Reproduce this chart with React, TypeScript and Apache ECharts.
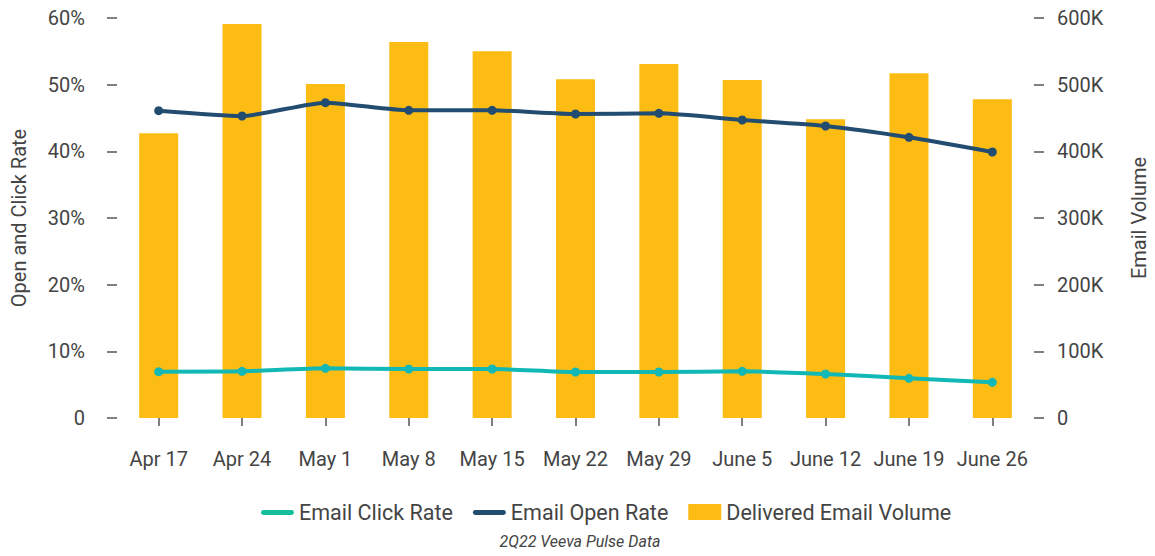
import React, { useEffect, useRef } from "react";
import * as echarts from "echarts";

const categories = ["Apr 17", "Apr 24", "May 1", "May 8", "May 15", "May 22", "May 29", "June 5", "June 12", "June 19", "June 26"];
const clickRate = [6.95, 7.0, 7.45, 7.35, 7.35, 6.9, 6.9, 7.0, 6.6, 5.95, 5.35];
const openRate = [46.1, 45.3, 47.3, 46.15, 46.15, 45.6, 45.7, 44.7, 43.8, 42.1, 39.9];
const volume = [427000, 591000, 501000, 564000, 550000, 508000, 531000, 507000, 448000, 517000, 478000];

const FONT = "Roboto, 'Noto Sans', sans-serif";
const TEXT = "#444444";
const BAR = "#FDBC13";
const OPEN = "#234D70";
const CLICK = "#12B8B5";
const CLICK_LEGEND = "#16BE9E";
const lineIcon = "path://M0,0 M0,16 M2,6 L31,6 A2.5,2.5 0 0 1 31,11 L2,11 A2.5,2.5 0 0 1 2,6 Z";

export default function App() {
  const ref = useRef<HTMLDivElement>(null);
  useEffect(() => {
    document.body.style.margin = "0";
    const chart = echarts.init(ref.current!, null, { renderer: "svg" });
    chart.setOption({
      animation: false,
      textStyle: { fontFamily: FONT },
      grid: { left: 117, right: 121, top: 18, bottom: 138, outerBoundsMode: "none", containLabel: false },
      legend: {
        top: 496,
        left: 256,
        itemWidth: 33,
        itemHeight: 16,
        itemGap: 20,
        textStyle: { fontSize: 21.5, color: TEXT, fontFamily: FONT },
        data: [
          { name: "Email Click Rate", icon: lineIcon, itemStyle: { color: CLICK_LEGEND } },
          { name: "Email Open Rate", icon: lineIcon, itemStyle: { color: OPEN } },
          { name: "Delivered Email Volume", icon: "rect", itemStyle: { color: BAR } },
        ],
      },
      graphic: [
        {
          type: "text",
          x: 580,
          y: 541,
          style: {
            text: "2Q22 Veeva Pulse Data",
            fontSize: 16,
            fontStyle: "italic",
            fill: TEXT,
            fontFamily: FONT,
            align: "center",
            verticalAlign: "middle",
          },
        },
      ],
      xAxis: {
        type: "category",
        data: categories,
        offset: 12,
        axisLine: { show: false },
        axisTick: { show: true, length: 8, alignWithLabel: true, lineStyle: { color: "#555", width: 1.5 } },
        axisLabel: { fontSize: 20, color: TEXT, margin: 19, interval: 0 },
      },
      yAxis: [
        {
          type: "value",
          min: 0,
          max: 60,
          interval: 10,
          name: "Open and Click Rate",
          nameLocation: "middle",
          nameGap: 88,
          nameTextStyle: { fontSize: 20, color: TEXT },
          axisLine: { show: false },
          axisTick: { show: true, length: 10, lineStyle: { color: "#555", width: 1.5 } },
          splitLine: { show: false },
          axisLabel: { fontSize: 20, color: TEXT, margin: 32, formatter: (v: number) => (v === 0 ? "0" : v + "%") },
        },
        {
          type: "value",
          min: 0,
          max: 600000,
          interval: 100000,
          name: "Email Volume",
          nameLocation: "middle",
          nameGap: 95,
          nameTextStyle: { fontSize: 20, color: TEXT },
          axisLine: { show: false },
          axisTick: { show: true, length: 10, lineStyle: { color: "#555", width: 1.5 } },
          splitLine: { show: false },
          axisLabel: { fontSize: 20, color: TEXT, margin: 23, formatter: (v: number) => (v === 0 ? "0" : v / 1000 + "K") },
        },
      ],
      series: [
        {
          name: "Email Click Rate",
          type: "line",
          data: clickRate,
          yAxisIndex: 0,
          smooth: 0.2,
          symbol: "circle",
          symbolSize: 9,
          z: 3,
          lineStyle: { width: 4, color: CLICK },
          itemStyle: { color: CLICK },
        },
        {
          name: "Email Open Rate",
          type: "line",
          data: openRate,
          yAxisIndex: 0,
          smooth: 0.2,
          symbol: "circle",
          symbolSize: 9,
          z: 3,
          lineStyle: { width: 4, color: OPEN },
          itemStyle: { color: OPEN },
        },
        {
          name: "Delivered Email Volume",
          type: "bar",
          data: volume,
          yAxisIndex: 1,
          barWidth: 39,
          z: 1,
          itemStyle: { color: BAR },
        },
      ],
    });
    return () => chart.dispose();
  }, []);
  return <div ref={ref} style={{ width: 1155, height: 556 }} />;
}
